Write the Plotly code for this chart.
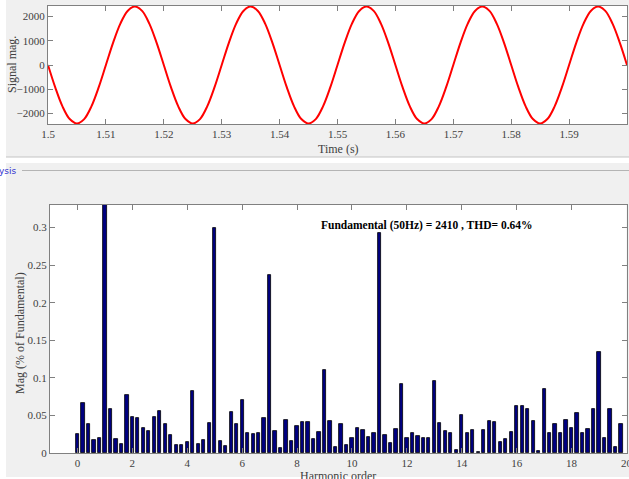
import numpy as np
import plotly.graph_objects as go

W, H = 629, 479

# ---- time-domain signal: one cycle of samples (16 per 20 ms period), 5 cycles shown
cycle_mag = [0, -922, -1704, -2227, -2410, -2227, -1704, -922,
             0, 922, 1704, 2227, 2410, 2227, 1704, 922]
signal_mag = cycle_mag * 5 + [0]
time_s = np.linspace(1.5, 1.6, len(signal_mag))

# ---- harmonic spectrum, % of fundamental, orders 0 .. 19.8 in steps of 0.2
harmonic_mag = [
    0.025, 0.066, 0.039, 0.017, 0.020, 100.0, 0.058, 0.018, 0.012, 0.077,
    0.048, 0.047, 0.033, 0.029, 0.048, 0.056, 0.039, 0.024, 0.011, 0.011,
    0.015, 0.083, 0.012, 0.017, 0.040, 0.299, 0.016, 0.009, 0.054, 0.039,
    0.071, 0.026, 0.025, 0.026, 0.047, 0.237, 0.029, 0.007, 0.044, 0.016,
    0.036, 0.041, 0.041, 0.019, 0.028, 0.110, 0.043, 0.008, 0.039, 0.011,
    0.020, 0.033, 0.030, 0.021, 0.027, 0.293, 0.024, 0.013, 0.032, 0.092,
    0.020, 0.026, 0.023, 0.020, 0.020, 0.096, 0.040, 0.029, 0.027, 0.004,
    0.051, 0.026, 0.031, 0.002, 0.031, 0.042, 0.041, 0.014, 0.019, 0.028,
    0.062, 0.063, 0.059, 0.042, 0.003, 0.085, 0.027, 0.038, 0.027, 0.044,
    0.033, 0.053, 0.026, 0.032, 0.058, 0.134, 0.020, 0.058, 0.008, 0.039,
]
harmonic_order = np.round(np.arange(len(harmonic_mag)) * 0.2, 1)

fundamental_hz = 50
fundamental_mag = 2410
thd_pct = 0.64

time_ticks = [1.5, 1.51, 1.52, 1.53, 1.54, 1.55, 1.56, 1.57, 1.58, 1.59]
signal_ticks = [-2000, -1000, 0, 1000, 2000]
order_ticks = [0, 2, 4, 6, 8, 10, 12, 14, 16, 18, 20]
mag_ticks = [0, 0.05, 0.1, 0.15, 0.2, 0.25, 0.3]


def px_x(p):
    return p / W


def px_y(p):
    return 1 - p / H


SERIF = "Liberation Serif, Times New Roman, serif"
AXIS_LINE = "#808080"
TICK_TXT = "#404040"
PANEL = "#f0f0f0"

# plot areas in pixels (left, top, right, bottom)
top_box = (48, 6, 627, 124)
bot_box = (50, 205, 626.5, 453)

fig = go.Figure()

fig.add_trace(go.Scatter(
    x=time_s, y=signal_mag, mode="lines",
    line=dict(color="#ff0000", width=2, shape="spline", smoothing=1),
    xaxis="x", yaxis="y", showlegend=False, hoverinfo="skip",
))

fig.add_trace(go.Bar(
    x=harmonic_order, y=harmonic_mag, width=0.12,
    marker=dict(color="#000080", line=dict(color="#000000", width=0.8)),
    xaxis="x2", yaxis="y2", showlegend=False,
))

axis_common = dict(
    showline=True, linecolor=AXIS_LINE, linewidth=1, mirror="ticks",
    ticks="inside", ticklen=5, tickcolor=AXIS_LINE, showgrid=False,
    zeroline=False, automargin=False, ticklabeloverflow="allow",
    tickfont=dict(family=SERIF, size=11, color=TICK_TXT),
)

fig.update_layout(
    template="none",
    width=W, height=H,
    margin=dict(l=0, r=0, t=0, b=0, pad=0, autoexpand=False),
    paper_bgcolor="white",
    plot_bgcolor="rgba(0,0,0,0)",
    font=dict(family=SERIF),
    showlegend=False,
    bargap=0,
    xaxis=dict(
        domain=[px_x(top_box[0]), px_x(top_box[2])], anchor="y",
        range=[1.5, 1.6], tickvals=time_ticks,
        ticktext=[f"{v:g}" for v in time_ticks], **axis_common,
    ),
    yaxis=dict(
        domain=[px_y(top_box[3]), px_y(top_box[1])], anchor="x",
        range=[-2430, 2430], tickvals=signal_ticks, **axis_common,
    ),
    xaxis2=dict(
        domain=[px_x(bot_box[0]), px_x(bot_box[2])], anchor="y2",
        range=[-1, 20], tickvals=order_ticks, **axis_common,
    ),
    yaxis2=dict(
        domain=[px_y(bot_box[3]), px_y(bot_box[1])], anchor="x2",
        range=[0, 0.33], tickvals=mag_ticks,
        ticktext=[f"{v:g}" for v in mag_ticks], **axis_common,
    ),
)

# window background panels and separators
shapes = [
    dict(type="rect", xref="paper", yref="paper", x0=px_x(6), x1=1,
         y0=px_y(157), y1=1, fillcolor=PANEL, line=dict(width=0), layer="below"),
    dict(type="rect", xref="paper", yref="paper", x0=px_x(6), x1=1,
         y0=px_y(477), y1=px_y(163), fillcolor=PANEL, line=dict(width=0), layer="below"),
    dict(type="line", xref="paper", yref="paper", x0=px_x(6), x1=1,
         y0=px_y(157), y1=px_y(157), line=dict(color="#c4c4c4", width=1), layer="below"),
    dict(type="line", xref="paper", yref="paper", x0=px_x(22), x1=1,
         y0=px_y(170.5), y1=px_y(170.5), line=dict(color="#b4b4b4", width=1), layer="below"),
]
for (l, t, r, b) in (top_box, bot_box):
    shapes.append(dict(type="rect", xref="paper", yref="paper",
                       x0=px_x(l), x1=px_x(r), y0=px_y(b), y1=px_y(t),
                       fillcolor="white", line=dict(width=0), layer="below"))
fig.update_layout(shapes=shapes)

ann = [
    dict(text="Signal mag.", x=px_x(12), y=px_y(65), textangle=-90,
         font=dict(family=SERIF, size=12, color=TICK_TXT)),
    dict(text="Time (s)", x=px_x(338), y=px_y(149),
         font=dict(family=SERIF, size=12, color=TICK_TXT)),
    dict(text="Mag (% of Fundamental)", x=px_x(20), y=px_y(333), textangle=-90,
         font=dict(family=SERIF, size=12, color=TICK_TXT)),
    dict(text="Harmonic order", x=px_x(338), y=px_y(476),
         font=dict(family=SERIF, size=12, color=TICK_TXT)),
    dict(text="ysis", x=px_x(19), y=px_y(171), xanchor="right",
         font=dict(family="DejaVu Sans", size=9, color="#3434d0")),
]
for a in ann:
    a.setdefault("xanchor", "center")
    a.update(xref="paper", yref="paper", showarrow=False, yanchor="middle")
    fig.add_annotation(**a)

fig.add_annotation(
    text=(f"<b>Fundamental ({fundamental_hz}Hz) = {fundamental_mag} , "
          f"THD= {thd_pct:.2f}%</b>"),
    x=8.8, y=0.303, xref="x2", yref="y2", xanchor="left", yanchor="middle",
    showarrow=False, font=dict(family=SERIF, size=11.5, color="#000000"),
)

fig.write_html("out.html")
